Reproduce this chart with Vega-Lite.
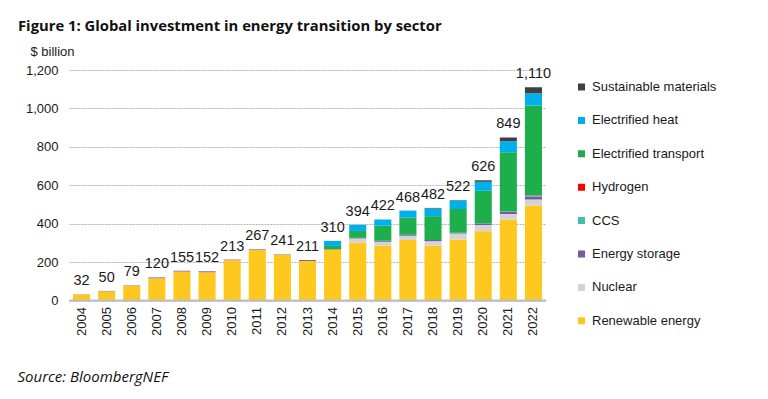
{
  "$schema": "https://vega.github.io/schema/vega-lite/v6.json",
  "autosize": "none",
  "width": 477,
  "height": 230.5,
  "padding": {"left": 69, "top": 70, "right": 222, "bottom": 98.5},
  "background": "white",
  "config": {
    "view": {"stroke": null},
    "font": "Liberation Sans",
    "axisY": {
      "labelFontSize": 13,
      "labelColor": "#1a1a1a",
      "labelPadding": 11,
      "labelOverlap": false,
      "labelSeparation": 0,
      "ticks": false,
      "domain": false,
      "grid": true,
      "gridColor": "#b4b4b4",
      "gridDash": [2, 1],
      "gridWidth": 1,
      "titleAngle": 0,
      "titleAlign": "left",
      "titleBaseline": "alphabetic",
      "titleX": -39,
      "titleY": -15,
      "titleFontSize": 13,
      "titleFontWeight": "normal",
      "titleColor": "#1a1a1a"
    }
  },
  "title": {
    "text": "Figure 1: Global investment in energy transition by sector",
    "anchor": "start",
    "frame": "group",
    "font": "Open Sans",
    "fontSize": 14.8,
    "fontWeight": "bold",
    "color": "#111111",
    "dx": -51,
    "offset": 11
  },
  "datasets": {
    "stack": [
      {"year": "2004", "sector": "Renewable energy", "value": 31},
      {"year": "2004", "sector": "Energy storage", "value": 1},
      {"year": "2005", "sector": "Renewable energy", "value": 48},
      {"year": "2005", "sector": "Energy storage", "value": 2},
      {"year": "2006", "sector": "Renewable energy", "value": 77},
      {"year": "2006", "sector": "Energy storage", "value": 2},
      {"year": "2007", "sector": "Renewable energy", "value": 116},
      {"year": "2007", "sector": "Energy storage", "value": 4},
      {"year": "2008", "sector": "Renewable energy", "value": 151},
      {"year": "2008", "sector": "Energy storage", "value": 4},
      {"year": "2009", "sector": "Renewable energy", "value": 147},
      {"year": "2009", "sector": "Energy storage", "value": 5},
      {"year": "2010", "sector": "Renewable energy", "value": 210},
      {"year": "2010", "sector": "Energy storage", "value": 3},
      {"year": "2011", "sector": "Renewable energy", "value": 263},
      {"year": "2011", "sector": "Nuclear", "value": 1},
      {"year": "2011", "sector": "Energy storage", "value": 3},
      {"year": "2012", "sector": "Renewable energy", "value": 238},
      {"year": "2012", "sector": "Nuclear", "value": 1},
      {"year": "2012", "sector": "Energy storage", "value": 2},
      {"year": "2013", "sector": "Renewable energy", "value": 206},
      {"year": "2013", "sector": "Energy storage", "value": 5},
      {"year": "2014", "sector": "Renewable energy", "value": 265},
      {"year": "2014", "sector": "Energy storage", "value": 2},
      {"year": "2014", "sector": "Electrified transport", "value": 17},
      {"year": "2014", "sector": "Electrified heat", "value": 26},
      {"year": "2015", "sector": "Renewable energy", "value": 301},
      {"year": "2015", "sector": "Nuclear", "value": 22},
      {"year": "2015", "sector": "Energy storage", "value": 3},
      {"year": "2015", "sector": "Electrified transport", "value": 36},
      {"year": "2015", "sector": "Electrified heat", "value": 32},
      {"year": "2016", "sector": "Renewable energy", "value": 285},
      {"year": "2016", "sector": "Nuclear", "value": 21},
      {"year": "2016", "sector": "Energy storage", "value": 5},
      {"year": "2016", "sector": "Electrified transport", "value": 78},
      {"year": "2016", "sector": "Electrified heat", "value": 33},
      {"year": "2017", "sector": "Renewable energy", "value": 315},
      {"year": "2017", "sector": "Nuclear", "value": 22},
      {"year": "2017", "sector": "Energy storage", "value": 5},
      {"year": "2017", "sector": "Electrified transport", "value": 89},
      {"year": "2017", "sector": "Electrified heat", "value": 37},
      {"year": "2018", "sector": "Renewable energy", "value": 285},
      {"year": "2018", "sector": "Nuclear", "value": 24},
      {"year": "2018", "sector": "Energy storage", "value": 6},
      {"year": "2018", "sector": "Electrified transport", "value": 124},
      {"year": "2018", "sector": "Electrified heat", "value": 40},
      {"year": "2018", "sector": "Sustainable materials", "value": 3},
      {"year": "2019", "sector": "Renewable energy", "value": 318},
      {"year": "2019", "sector": "Nuclear", "value": 31},
      {"year": "2019", "sector": "Energy storage", "value": 4},
      {"year": "2019", "sector": "Electrified transport", "value": 123},
      {"year": "2019", "sector": "Electrified heat", "value": 43},
      {"year": "2019", "sector": "Sustainable materials", "value": 3},
      {"year": "2020", "sector": "Renewable energy", "value": 361},
      {"year": "2020", "sector": "Nuclear", "value": 32},
      {"year": "2020", "sector": "Energy storage", "value": 8},
      {"year": "2020", "sector": "Electrified transport", "value": 170},
      {"year": "2020", "sector": "Electrified heat", "value": 47},
      {"year": "2020", "sector": "Sustainable materials", "value": 8},
      {"year": "2021", "sector": "Renewable energy", "value": 422},
      {"year": "2021", "sector": "Nuclear", "value": 28},
      {"year": "2021", "sector": "Energy storage", "value": 12},
      {"year": "2021", "sector": "CCS", "value": 1},
      {"year": "2021", "sector": "Electrified transport", "value": 309},
      {"year": "2021", "sector": "Electrified heat", "value": 57},
      {"year": "2021", "sector": "Sustainable materials", "value": 20},
      {"year": "2022", "sector": "Renewable energy", "value": 495},
      {"year": "2022", "sector": "Nuclear", "value": 31},
      {"year": "2022", "sector": "Energy storage", "value": 16},
      {"year": "2022", "sector": "CCS", "value": 6},
      {"year": "2022", "sector": "Hydrogen", "value": 1},
      {"year": "2022", "sector": "Electrified transport", "value": 466},
      {"year": "2022", "sector": "Electrified heat", "value": 64},
      {"year": "2022", "sector": "Sustainable materials", "value": 31}
    ],
    "totals": [
      {"year": "2004", "total": 32},
      {"year": "2005", "total": 50},
      {"year": "2006", "total": 79},
      {"year": "2007", "total": 120},
      {"year": "2008", "total": 155},
      {"year": "2009", "total": 152},
      {"year": "2010", "total": 213},
      {"year": "2011", "total": 267},
      {"year": "2012", "total": 241},
      {"year": "2013", "total": 211},
      {"year": "2014", "total": 310},
      {"year": "2015", "total": 394},
      {"year": "2016", "total": 422},
      {"year": "2017", "total": 468},
      {"year": "2018", "total": 482},
      {"year": "2019", "total": 522},
      {"year": "2020", "total": 626},
      {"year": "2021", "total": 849},
      {"year": "2022", "total": 1110}
    ]
  },
  "layer": [
    {
      "data": {"name": "stack"},
      "transform": [
        {"calculate": "indexof(['Renewable energy', 'Nuclear', 'Energy storage', 'CCS', 'Hydrogen', 'Electrified transport', 'Electrified heat', 'Sustainable materials'], datum.sector)", "as": "stackOrder"}
      ],
      "mark": {"type": "bar"},
      "encoding": {
        "x": {
          "field": "year",
          "type": "ordinal",
          "scale": {"paddingInner": 0.32, "paddingOuter": 0.16},
          "axis": {
            "title": "Source: BloombergNEF",
            "titleFont": "Open Sans",
            "titleFontStyle": "italic",
            "titleFontWeight": "normal",
            "titleFontSize": 15,
            "titleColor": "#111111",
            "titleAnchor": "start",
            "titleAlign": "left",
            "titleBaseline": "alphabetic",
            "titleX": -52,
            "titleY": 81,
            "labelAngle": -90,
            "labelAlign": "right",
            "labelBaseline": "middle",
            "labelFontSize": 13,
            "labelColor": "#1a1a1a",
            "labelPadding": 6,
            "ticks": false,
            "domain": false,
            "grid": false
          }
        },
        "y": {
          "field": "value",
          "type": "quantitative",
          "stack": "zero",
          "scale": {"domain": [0, 1200], "nice": false},
          "axis": {"values": [0, 200, 400, 600, 800, 1000, 1200], "format": ",d", "title": "$ billion", "labelOverlap": false, "grid": true, "gridColor": "#b4b4b4", "gridDash": [2, 1], "gridWidth": 1}
        },
        "order": {"field": "stackOrder", "type": "quantitative", "sort": "ascending"},
        "color": {
          "field": "sector",
          "type": "nominal",
          "scale": {
            "domain": ["Renewable energy", "Nuclear", "Energy storage", "CCS", "Hydrogen", "Electrified transport", "Electrified heat", "Sustainable materials"],
            "range": ["#FFC81F", "#D4D4D4", "#7B58A6", "#3FBFAD", "#FF0000", "#1DAF4C", "#00B0EC", "#404040"]
          },
          "legend": {
            "values": ["Sustainable materials", "Electrified heat", "Electrified transport", "Hydrogen", "CCS", "Energy storage", "Nuclear", "Renewable energy"],
            "title": null,
            "orient": "none",
            "legendX": 506,
            "legendY": 10,
            "symbolType": "square",
            "symbolSize": 49,
            "symbolStrokeWidth": 0,
            "labelFontSize": 13,
            "labelColor": "#1a1a1a",
            "labelOffset": 4,
            "clipHeight": 14,
            "rowPadding": 19.4
          }
        }
      }
    },
    {
      "data": {"name": "totals"},
      "mark": {"type": "text", "baseline": "alphabetic", "dy": -9, "fontSize": 14.5, "color": "#1a1a1a"},
      "encoding": {
        "x": {"field": "year", "type": "ordinal"},
        "y": {
          "field": "total",
          "type": "quantitative",
          "axis": {"values": [0, 200, 400, 600, 800, 1000, 1200], "format": ",d", "title": "$ billion", "labelOverlap": false, "grid": true, "gridColor": "#b4b4b4", "gridDash": [2, 1], "gridWidth": 1}
        },
        "text": {"field": "total", "type": "quantitative", "format": ",d"}
      }
    },
    {
      "mark": {"type": "rule", "color": "#bfbfbf", "strokeWidth": 2},
      "data": {"values": [{"base": 0}]},
      "encoding": {
        "y": {
          "field": "base",
          "type": "quantitative",
          "axis": {"values": [0, 200, 400, 600, 800, 1000, 1200], "format": ",d", "title": "$ billion", "labelOverlap": false, "grid": true, "gridColor": "#b4b4b4", "gridDash": [2, 1], "gridWidth": 1}
        }
      }
    }
  ]
}
